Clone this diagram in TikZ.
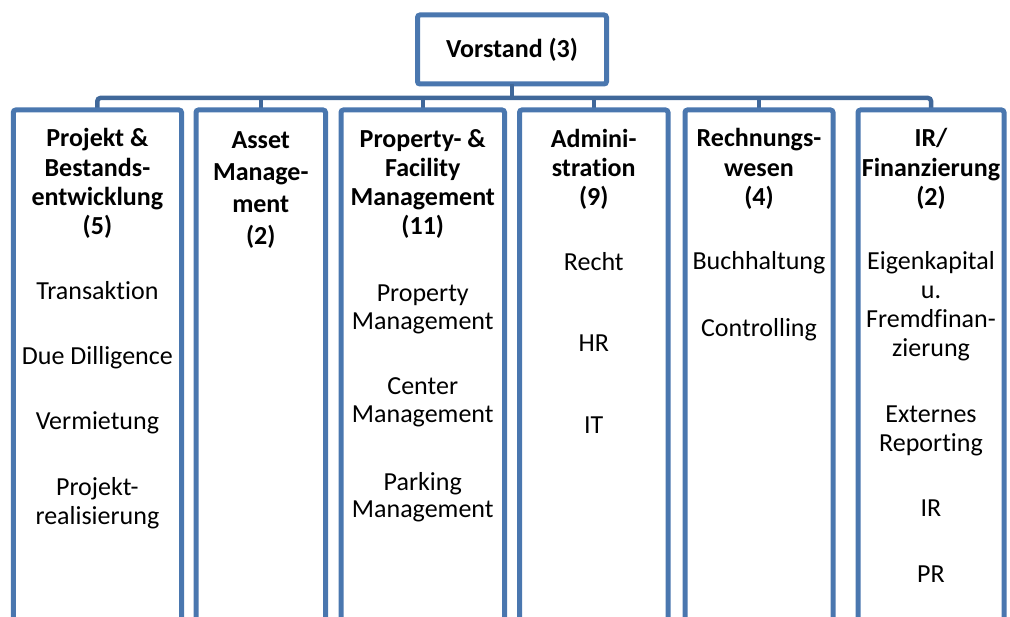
\documentclass[tikz,border=0pt]{standalone}
\usepackage{fontspec}
\setmainfont{Carlito}[Ligatures={NoCommon,NoContextual,NoRare}]
\definecolor{frame}{RGB}{74,119,175}
\definecolor{busblue}{RGB}{64,104,154}
\begin{document}
\begin{tikzpicture}[x=1pt,y=-1pt,
  frameline/.style={draw=frame,line width=5pt,rounded corners=2.5pt},
  busline/.style={draw=busblue,line width=4.5pt,rounded corners=3pt},
  column/.style={rectangle,inner sep=0pt,outer sep=0pt,minimum height=530pt},
  head/.style={font=\fontsize{26}{30}\selectfont\bfseries,anchor=base,inner sep=0pt},
  item/.style={font=\fontsize{26}{30}\selectfont,anchor=base,inner sep=0pt}]
\useasboundingbox (0,0) rectangle (1010,617);
\clip (0,0) rectangle (1010,617);

% top box
\node[frameline,rectangle,inner sep=0pt,outer sep=0pt,minimum width=189pt,minimum height=69pt,
      font=\fontsize{26}{30}\selectfont\bfseries] (top) at (512,49.5) {Vorstand (3)};

% department columns (open at the bottom)
\node[column,minimum width=168.2pt] (c1) at (97.4,375) {};
\node[column,minimum width=129.5pt] (c2) at (260.75,375) {};
\node[column,minimum width=163.5pt] (c3) at (422.75,375) {};
\node[column,minimum width=148.5pt] (c4) at (593.75,375) {};
\node[column,minimum width=148pt]   (c5) at (759,375) {};
\node[column,minimum width=146pt]   (c6) at (931,375) {};

% connector bus
\coordinate (bus) at (0,98);
\draw[busline] (c1.north) |- (c6.north |- bus) -- (c6.north);
\foreach \c in {c2,c3,c4,c5}
  \draw[busline] (\c.north) -- (\c.north |- bus);
\draw[busline] (top.south) -- (top.south |- bus);

% column outlines
\foreach \c in {c1,c2,c3,c4,c5,c6}
  \draw[frameline] (\c.south west) -- (\c.north west) -- (\c.north east) -- (\c.south east);

% headings
\foreach \y/\t [count=\i] in {147/Projekt \&,176.5/Bestands-,206/entwicklung,235/(5)}
  \node[head] (h1-\i) at (97.4,\y) {\t};
\foreach \y/\t [count=\i] in {149/Asset,181/Manage-,213/ment,245/(2)}
  \node[head] (h2-\i) at (260.75,\y) {\t};
\foreach \y/\t [count=\i] in {148/Property- \&,177/Facility,206/Management,235/(11)}
  \node[head] (h3-\i) at (422.75,\y) {\t};
\foreach \y/\t [count=\i] in {148/Admini-,177/stration,206/(9)}
  \node[head] (h4-\i) at (593.75,\y) {\t};
\foreach \y/\t [count=\i] in {147/Rechnungs-,177/wesen,206/(4)}
  \node[head] (h5-\i) at (759,\y) {\t};
\foreach \y/\t [count=\i] in {147/{IR/},176.5/Finanzierung,206/(2)}
  \node[head] (h6-\i) at (931,\y) {\t};

% sub-units
\foreach \y/\t [count=\i] in {300/Transaktion,365/Due Dilligence,430/Vermietung,496/Projekt-,525/realisierung}
  \node[item] (u1-\i) at (97.4,\y) {\t};
\foreach \y/\t [count=\i] in {302/Property,330/Management,395/Center,423/Management,490/Parking,518/Management}
  \node[item] (u3-\i) at (422.75,\y) {\t};
\foreach \y/\t [count=\i] in {271/Recht,352/HR,434/IT}
  \node[item] (u4-\i) at (593.75,\y) {\t};
\foreach \y/\t [count=\i] in {270/Buchhaltung,337/Controlling}
  \node[item] (u5-\i) at (759,\y) {\t};
\foreach \y/\t [count=\i] in {270/Eigenkapital,299/u.,328/Fremdfinan-,357/zierung,423/Externes,452/Reporting,517/IR,582/PR}
  \node[item] (u6-\i) at (931,\y) {\t};
\end{tikzpicture}
\end{document}
